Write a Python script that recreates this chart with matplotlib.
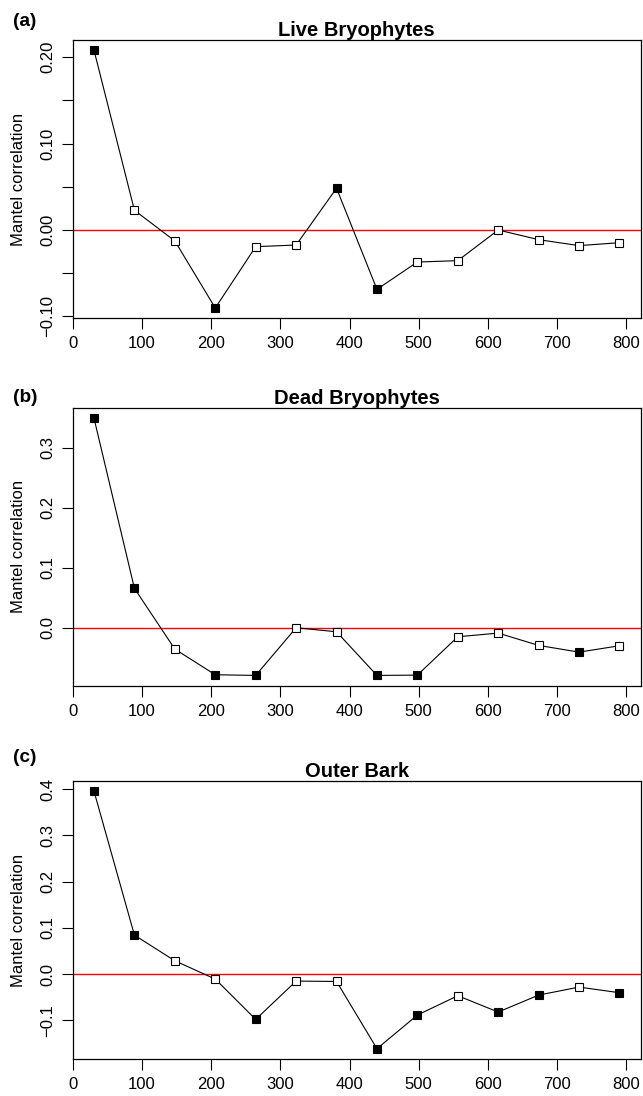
import numpy as np
import matplotlib
matplotlib.use("agg")
import matplotlib.pyplot as plt

plt.rcParams['font.family'] = ['Liberation Sans', 'DejaVu Sans']

# distance class centres
dist = [30.8, 89.2, 147.6, 206.0, 264.4, 322.8, 381.2, 439.6, 498.0, 556.4, 614.8, 673.2, 731.6, 790.0]

live = [0.208, 0.0228, -0.0127, -0.0903, -0.0193, -0.0174, 0.0483, -0.0687, -0.0371, -0.0355, 0.000, -0.0112, -0.0181, -0.0147]
live_sig = [1, 0, 0, 1, 0, 0, 1, 1, 0, 0, 0, 0, 0, 0]

dead = [0.349, 0.0656, -0.0356, -0.0783, -0.0794, 0.000, -0.0067, -0.0794, -0.0789, -0.015, -0.0089, -0.0294, -0.0406, -0.030]
dead_sig = [1, 1, 0, 1, 1, 0, 0, 1, 1, 0, 0, 0, 1, 0]

bark = [0.3955, 0.0843, 0.0288, -0.0108, -0.098, -0.0151, -0.0159, -0.1614, -0.0886, -0.0468, -0.0821, -0.0454, -0.0281, -0.0403]
bark_sig = [1, 1, 0, 0, 1, 0, 0, 1, 1, 0, 1, 1, 0, 1]

xticks = [0, 100, 200, 300, 400, 500, 600, 700, 800]

W, H = 643, 1096

def rlim(v):
	# R style 4% padding
	lo, hi = min(v), max(v)
	r = hi - lo
	return lo - 0.04 * r, hi + 0.04 * r

def panel(ax, y, sig, title, yt, ylabs):
	x = np.array(dist)
	y = np.array(y)
	sig = np.array(sig, dtype=bool)
	ax.axhline(0, color="red", lw=1.0, zorder=1)
	ax.plot(x, y, color="black", lw=0.8, zorder=2)
	ax.plot(x[sig], y[sig], "s", ms=6, mfc="black", mec="black", mew=0.8, zorder=3)
	ax.plot(x[~sig], y[~sig], "s", ms=6, mfc="white", mec="black", mew=0.8, zorder=3)
	ax.set_xlim(rlim(dist))
	ax.set_ylim(rlim(y))
	ax.set_xticks(xticks)
	ax.set_xticklabels([str(t) for t in xticks], fontsize=12)
	ax.set_yticks(yt)
	ax.set_yticklabels(ylabs, fontsize=12, rotation=90, va="center")
	ax.tick_params(direction="out", length=8, width=0.8, pad=4.5)
	ax.tick_params(axis="x", pad=5)
	for s in ax.spines.values():
		s.set_linewidth(0.9)
	ax.set_title(title, fontsize=14.5, fontweight="bold", pad=2.2)

fig = plt.figure(figsize=(W / 100, H / 100), dpi=100)

left = 72.7 / W
width = (640.5 - 72.7) / W
# (top, bottom) of each box in pixels
boxes = [(40, 318.3), (408, 685.7), (781, 1059)]
axes = []
for top, bot in boxes:
	axes.append(fig.add_axes([left, 1 - bot / H, width, (bot - top) / H]))

panel(axes[0], live, live_sig, "Live Bryophytes",
	[-0.10, -0.05, 0.0, 0.05, 0.10, 0.15, 0.20],
	["\u22120.10", "", "0.00", "", "0.10", "", "0.20"])
panel(axes[1], dead, dead_sig, "Dead Bryophytes",
	[0.0, 0.1, 0.2, 0.3],
	["0.0", "0.1", "0.2", "0.3"])
panel(axes[2], bark, bark_sig, "Outer Bark",
	[-0.1, 0.0, 0.1, 0.2, 0.3, 0.4],
	["\u22120.1", "0.0", "0.1", "0.2", "0.3", "0.4"])

for top, bot in boxes:
	fig.text(19 / W, 1 - (top + bot) / 2 / H, "Mantel correlation", fontsize=12,
		rotation=90, ha="center", va="center")

labels = ["(a)", "(b)", "(c)"]
label_y = [22, 398, 757]
for lab, ly in zip(labels, label_y):
	fig.text(25 / W, 1 - ly / H, lab, fontsize=13.7, fontweight="bold", ha="center", va="center")

plt.savefig("out.png", dpi=100)
